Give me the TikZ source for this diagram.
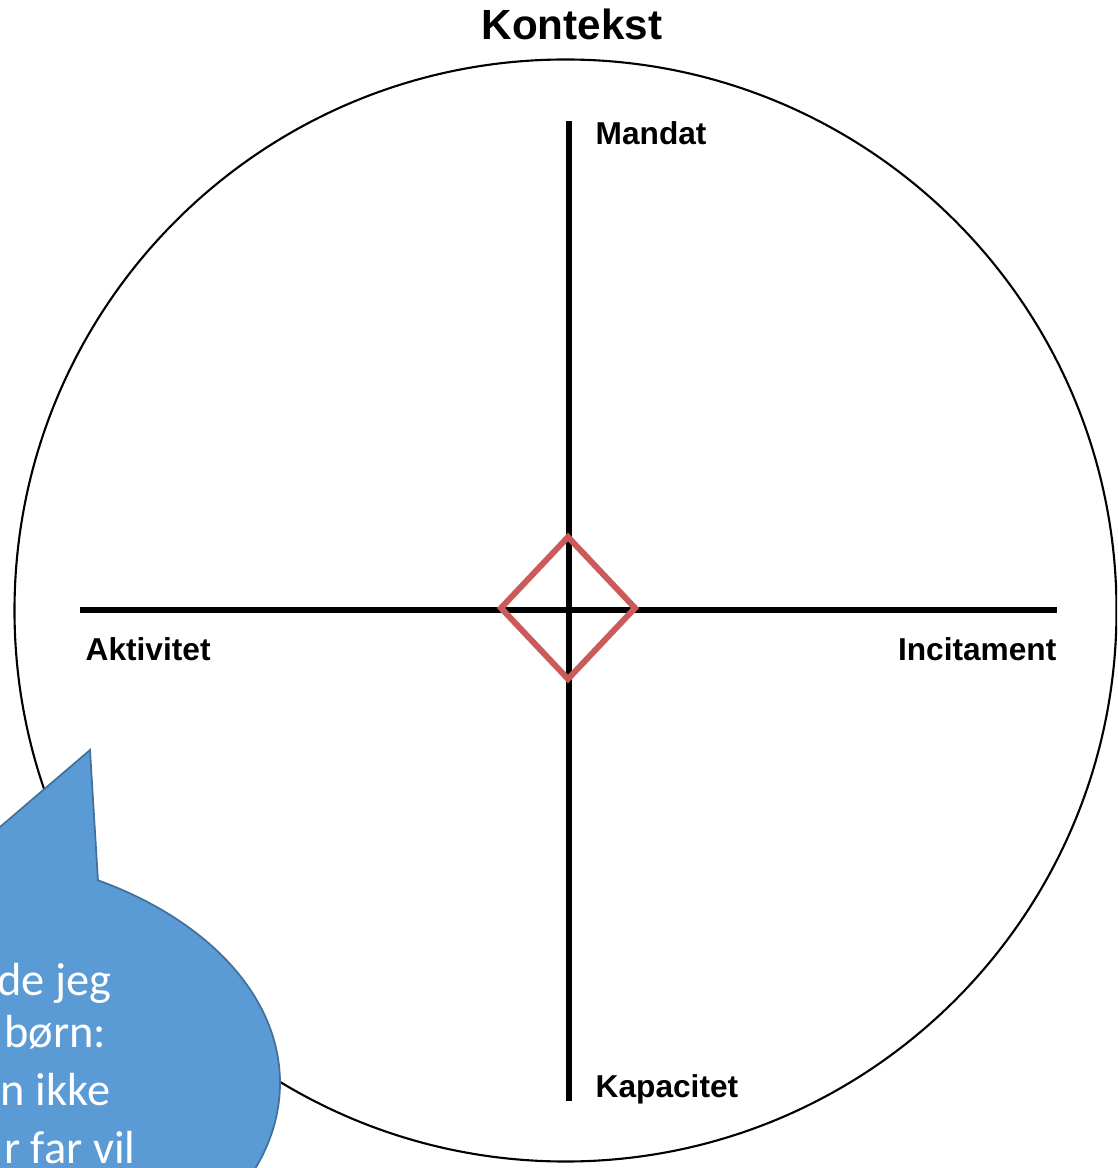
\documentclass[tikz,border=0pt]{standalone}
\usepackage{fontspec}
\setmainfont{Liberation Sans}
\newfontfamily\bubblefont{Carlito}
\usepackage{tikz}
\usetikzlibrary{positioning}
\definecolor{ink}{HTML}{000000}
\definecolor{sred}{HTML}{CB5A5A}
\definecolor{sblue}{HTML}{5B9BD5}
\definecolor{sedge}{HTML}{41719C}
\begin{document}
\begin{tikzpicture}[x=0.01cm, y=-0.01cm,
  axis/.style={ink, line width=1.45pt},
  lbl/.style={font=\bfseries\fontsize{9}{11}\selectfont, inner sep=0pt},
  say/.style={white, font=\bubblefont\fontsize{13.2}{16}\selectfont, inner sep=0pt, anchor=base east}]
\useasboundingbox (0,0) rectangle (1117,1168);
\clip (0,0) rectangle (1117,1168);
\coordinate (O) at (565.5,610.5);
\coordinate (N) at (569,121);
\coordinate (S) at (569,1101);
\coordinate (W) at (80,610);
\coordinate (E) at (1057,610);
\draw[ink, line width=0.6pt] (O) circle [radius=551];
\draw[axis] (W) -- (E);
\draw[axis] (N) -- (S);
\draw[sred, line width=1.7pt, line join=miter] (568,537) -- (635,608) -- (568,679) -- (501,608) -- cycle;
\node[font=\bfseries\fontsize{12}{14}\selectfont, inner sep=0pt, anchor=base] (kontekst) at (572,40) {Kontekst};
\node[lbl, anchor=base west] (mandat) at (595,145) {Mandat};
\node[lbl, anchor=base west] (kapacitet) at (595,1097) {Kapacitet};
\node[lbl, anchor=base west] (aktivitet) at (85,660) {Aktivitet};
\node[lbl, anchor=base east] (incitament) at (1057,660) {Incitament};
\coordinate (T) at (90,750);
\coordinate (R) at (98,881);
\coordinate (L) at (-35,857);
\filldraw[fill=sblue, draw=sedge, line width=0.5pt] (-70,1083) ellipse [x radius=350, y radius=231];
\fill[sblue] (T) -- (100.5,920) -- (-80,897) -- cycle;
\draw[sedge, line width=0.5pt, line join=miter] (R) -- (T) -- (L);
\node[say] (say1) at (112,995) {de jeg};
\node[say] (say2) at (107,1047) {børn:};
\node[say] (say3) at (111,1105) {n ikke};
\node[say] (say4) at (136,1163) {r far vil};
\end{tikzpicture}
\end{document}
